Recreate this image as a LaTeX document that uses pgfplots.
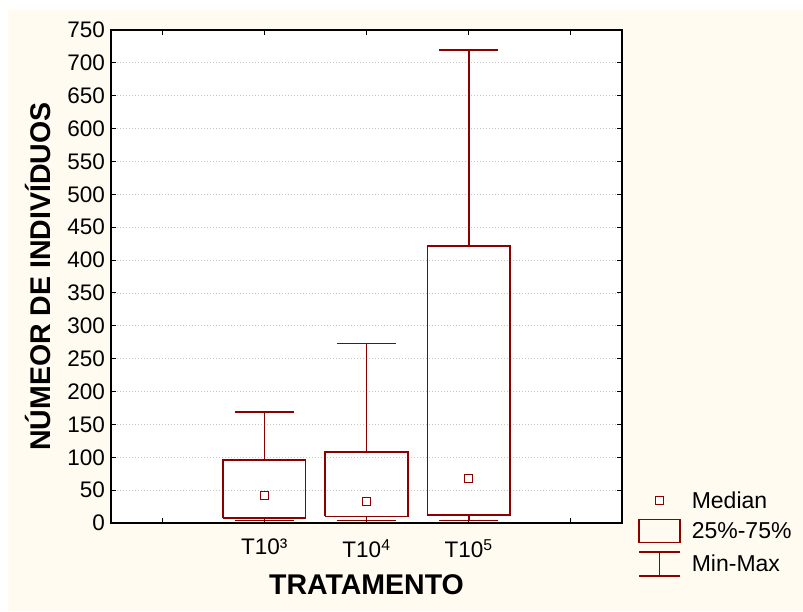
\documentclass[border=0pt]{standalone}
\usepackage{fontspec}
\setmainfont{Liberation Sans}
\usepackage{pgfplots}
\pgfplotsset{compat=1.18}
\definecolor{boxred}{RGB}{140,0,0}
\definecolor{cream}{RGB}{255,251,240}
\pgfplotsset{bx/.style={boxred, line width=1.6pt, forget plot, mark=none, line join=miter}}
\begin{document}
\begin{tikzpicture}
\fill[white] (0pt,0pt) rectangle (803pt,611pt);
\fill[cream] (8pt,0pt) rectangle (803pt,601pt);
\begin{axis}[
  at={(111pt,88pt)}, anchor=south west,
  scale only axis, width=511pt, height=493pt,
  xmin=-0.5, xmax=4.5, ymin=0, ymax=750,
  axis background/.style={fill=white},
  axis line style={line width=1.3pt},
  tick style={black, line width=1pt},
  tick align=inside, major tick length=5pt,
  xtick={0,1,2,3,4},
  xticklabels={,T10³,T10\textsuperscript{4},T10\textsuperscript{5},},
  ytick={0,50,...,750},
  ymajorgrids,
  grid style={dash pattern=on 1pt off 2pt, gray!45, line width=0.8pt},
  ticklabel style={font=\fontsize{22.5}{26}\selectfont},
  /pgf/number format/assume math mode=true,
  yticklabel style={anchor=east, inner sep=0pt, xshift=-6pt},
  xticklabel style={anchor=north, inner sep=0pt, yshift=-16pt},
  xlabel={TRATAMENTO},
  ylabel={NÚMEOR DE INDIVÍDUOS},
  xlabel style={font=\bfseries\fontsize{28.5}{32}\selectfont, at={(axis description cs:0.5,0)}, anchor=center, yshift=-62pt},
  ylabel style={font=\bfseries\fontsize{28.5}{32}\selectfont, at={(axis description cs:0,0.5)}, anchor=center, yshift=73pt},
  legend style={draw=none, fill=none, at={(axis description cs:1,0)}, anchor=south west, xshift=16pt, yshift=-54pt,
    font=\fontsize{23}{27}\selectfont, row sep=8pt, column sep=10pt, inner sep=0pt,
    nodes={inner sep=1pt}},
  legend cell align=left,
]
% T10^3
\addplot[bx] coordinates {(0.595,8) (1.405,8) (1.405,96) (0.595,96) (0.595,8)};
\addplot[bx] coordinates {(1,96) (1,169)};
\addplot[bx] coordinates {(0.71,169) (1.29,169)};
\addplot[bx] coordinates {(1,8) (1,4)};
\addplot[bx] coordinates {(0.71,4) (1.29,4)};
% T10^4
\addplot[bx] coordinates {(1.595,10) (2.405,10) (2.405,108) (1.595,108) (1.595,10)};
\addplot[bx] coordinates {(2,108) (2,273)};
\addplot[bx] coordinates {(1.71,273) (2.29,273)};
\addplot[bx] coordinates {(2,10) (2,4)};
\addplot[bx] coordinates {(1.71,4) (2.29,4)};
% T10^5
\addplot[bx] coordinates {(2.595,12) (3.405,12) (3.405,421) (2.595,421) (2.595,12)};
\addplot[bx] coordinates {(3,421) (3,720)};
\addplot[bx] coordinates {(2.71,720) (3.29,720)};
\addplot[bx] coordinates {(3,12) (3,4)};
\addplot[bx] coordinates {(2.71,4) (3.29,4)};
% medians
\addplot[only marks, forget plot, mark=square*, mark size=4pt, mark options={draw=boxred, fill=white, line width=1pt}] coordinates {(1,42) (2,33) (3,67)};
\addlegendimage{draw=none, legend image code/.code={\draw[boxred, fill=white, line width=1pt] (16.5pt,-4pt) rectangle (24.5pt,4pt); \path[draw=none] (0pt,0pt) -- (41pt,0pt);}}
\addlegendentry{Median}
\addlegendimage{draw=none, legend image code/.code={\draw[boxred, line width=1.6pt] (0pt,-11pt) rectangle (41pt,12pt);}}
\addlegendentry{25\%-75\%}
\addlegendimage{draw=none, legend image code/.code={\draw[boxred, line width=1.6pt] (0pt,12pt) -- (41pt,12pt) (20.5pt,12pt) -- (20.5pt,-12pt) (0pt,-12pt) -- (41pt,-12pt);}}
\addlegendentry{Min-Max}
\end{axis}
\end{tikzpicture}
\end{document}
